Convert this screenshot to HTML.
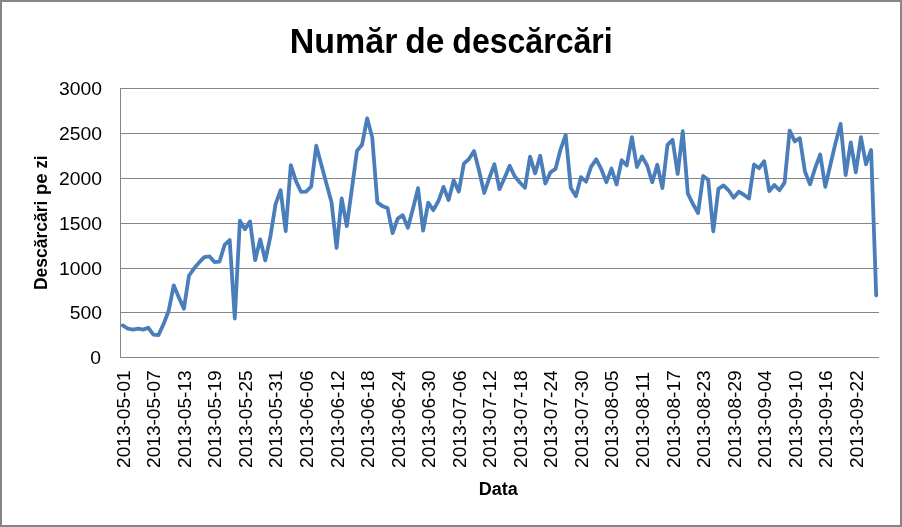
<!DOCTYPE html>
<html><head><meta charset="utf-8"><style>
html,body{margin:0;padding:0;background:#fff;}
svg{display:block;will-change:transform;}
text{fill:#000;font-family:"Liberation Sans",sans-serif;}
</style></head><body>
<svg width="902" height="527" viewBox="0 0 902 527">
<rect x="1" y="1" width="900" height="525" fill="#fff" stroke="#868686" stroke-width="2"/>
<rect x="120" y="88" width="759" height="1" fill="#868686"/>
<rect x="120" y="133" width="759" height="1" fill="#868686"/>
<rect x="120" y="178" width="759" height="1" fill="#868686"/>
<rect x="120" y="223" width="759" height="1" fill="#868686"/>
<rect x="120" y="268" width="759" height="1" fill="#868686"/>
<rect x="120" y="312" width="759" height="1" fill="#868686"/>
<rect x="120" y="357" width="759" height="1" fill="#868686"/>
<rect x="120" y="88" width="1" height="270" fill="#868686"/>
<text transform="translate(102.1,95.10) scale(1.075,1)" text-anchor="end" font-size="18" >3000</text>
<text transform="translate(102.1,140.10) scale(1.075,1)" text-anchor="end" font-size="18" >2500</text>
<text transform="translate(102.1,185.10) scale(1.075,1)" text-anchor="end" font-size="18" >2000</text>
<text transform="translate(102.1,230.10) scale(1.075,1)" text-anchor="end" font-size="18" >1500</text>
<text transform="translate(102.1,275.10) scale(1.075,1)" text-anchor="end" font-size="18" >1000</text>
<text transform="translate(102.1,319.10) scale(1.075,1)" text-anchor="end" font-size="18" >500</text>
<text transform="translate(101.1,364.10) scale(1.075,1)" text-anchor="end" font-size="18" >0</text>
<text transform="translate(129.75,467.96) rotate(-90) scale(1.0604,1)" font-size="18" >2013-05-01</text>
<text transform="translate(160.29,467.96) rotate(-90) scale(1.0604,1)" font-size="18" >2013-05-07</text>
<text transform="translate(190.83,467.96) rotate(-90) scale(1.0604,1)" font-size="18" >2013-05-13</text>
<text transform="translate(221.38,467.96) rotate(-90) scale(1.0604,1)" font-size="18" >2013-05-19</text>
<text transform="translate(251.92,467.96) rotate(-90) scale(1.0604,1)" font-size="18" >2013-05-25</text>
<text transform="translate(282.46,467.96) rotate(-90) scale(1.0604,1)" font-size="18" >2013-05-31</text>
<text transform="translate(313.01,467.96) rotate(-90) scale(1.0604,1)" font-size="18" >2013-06-06</text>
<text transform="translate(343.55,467.96) rotate(-90) scale(1.0604,1)" font-size="18" >2013-06-12</text>
<text transform="translate(374.09,467.96) rotate(-90) scale(1.0604,1)" font-size="18" >2013-06-18</text>
<text transform="translate(404.64,467.96) rotate(-90) scale(1.0604,1)" font-size="18" >2013-06-24</text>
<text transform="translate(435.18,467.96) rotate(-90) scale(1.0604,1)" font-size="18" >2013-06-30</text>
<text transform="translate(465.73,467.96) rotate(-90) scale(1.0604,1)" font-size="18" >2013-07-06</text>
<text transform="translate(496.27,467.96) rotate(-90) scale(1.0604,1)" font-size="18" >2013-07-12</text>
<text transform="translate(526.81,467.96) rotate(-90) scale(1.0604,1)" font-size="18" >2013-07-18</text>
<text transform="translate(557.36,467.96) rotate(-90) scale(1.0604,1)" font-size="18" >2013-07-24</text>
<text transform="translate(587.90,467.96) rotate(-90) scale(1.0604,1)" font-size="18" >2013-07-30</text>
<text transform="translate(618.44,467.96) rotate(-90) scale(1.0604,1)" font-size="18" >2013-08-05</text>
<text transform="translate(648.99,467.96) rotate(-90) scale(1.0604,1)" font-size="18" >2013-08-11</text>
<text transform="translate(679.53,467.96) rotate(-90) scale(1.0604,1)" font-size="18" >2013-08-17</text>
<text transform="translate(710.07,467.96) rotate(-90) scale(1.0604,1)" font-size="18" >2013-08-23</text>
<text transform="translate(740.62,467.96) rotate(-90) scale(1.0604,1)" font-size="18" >2013-08-29</text>
<text transform="translate(771.16,467.96) rotate(-90) scale(1.0604,1)" font-size="18" >2013-09-04</text>
<text transform="translate(801.71,467.96) rotate(-90) scale(1.0604,1)" font-size="18" >2013-09-10</text>
<text transform="translate(832.25,467.96) rotate(-90) scale(1.0604,1)" font-size="18" >2013-09-16</text>
<text transform="translate(862.79,467.96) rotate(-90) scale(1.0604,1)" font-size="18" >2013-09-22</text>
<clipPath id="pc"><rect x="121" y="80" width="760" height="290"/></clipPath>
<polyline clip-path="url(#pc)" points="122.80,325.40 127.89,328.72 132.98,329.61 138.07,328.72 143.16,329.61 148.25,327.73 153.34,334.63 158.43,335.08 163.52,324.14 168.61,311.05 173.70,285.32 178.79,297.24 183.88,308.72 188.97,275.72 194.06,268.46 199.15,262.36 204.24,257.07 209.34,256.36 214.43,262.09 219.52,261.56 224.61,244.97 229.70,240.04 234.79,318.50 239.88,220.76 244.97,229.28 250.06,221.39 255.15,260.21 260.24,239.32 265.33,260.48 270.42,236.45 275.51,204.35 280.60,190.18 285.69,231.07 290.79,165.16 295.88,180.86 300.97,191.80 306.06,191.62 311.15,186.69 316.24,145.71 321.33,164.72 326.42,183.55 331.51,202.29 336.60,247.93 341.69,198.34 346.78,226.14 351.87,188.93 356.96,150.91 362.05,144.72 367.14,118.27 372.23,137.37 377.33,202.38 382.42,206.14 387.51,207.94 392.60,233.04 397.69,218.61 402.78,215.20 407.87,227.66 412.96,208.65 418.05,188.21 423.14,230.71 428.23,202.65 433.32,210.18 438.41,201.03 443.50,186.86 448.59,199.96 453.68,180.23 458.78,191.62 463.87,163.55 468.96,158.98 474.05,151.09 479.14,170.99 484.23,192.96 489.32,177.99 494.41,164.27 499.50,189.11 504.59,177.72 509.68,165.79 514.77,176.37 519.86,182.47 524.95,187.76 530.04,156.65 535.13,173.41 540.22,155.75 545.32,183.46 550.41,172.34 555.50,168.93 560.59,149.29 565.68,134.86 570.77,187.76 575.86,196.19 580.95,177.18 586.04,181.66 591.13,166.60 596.22,159.34 601.31,169.20 606.40,182.20 611.49,168.57 616.58,184.53 621.67,160.23 626.77,165.52 631.86,137.10 636.95,167.05 642.04,156.38 647.13,165.52 652.22,182.20 657.31,164.81 662.40,188.03 667.49,144.90 672.58,139.79 677.67,173.95 682.76,131.18 687.85,193.59 692.94,203.99 698.03,213.05 703.12,175.92 708.21,179.69 713.31,231.34 718.40,188.84 723.49,185.34 728.58,190.27 733.67,197.80 738.76,191.71 743.85,194.75 748.94,198.61 754.03,164.45 759.12,168.21 764.21,161.22 769.30,191.08 774.39,185.07 779.48,190.27 784.57,182.65 789.66,130.55 794.76,141.40 799.85,138.18 804.94,171.53 810.03,184.35 815.12,168.12 820.21,154.49 825.30,186.77 830.39,164.72 835.48,143.20 840.57,123.92 845.66,175.03 850.75,142.30 855.84,172.34 860.93,137.10 866.02,164.45 871.11,149.92 876.20,295.54" fill="none" stroke="#4a7ebb" stroke-width="3.8" stroke-linejoin="round" stroke-linecap="round"/>
<text transform="translate(289.78,52.5) scale(0.972,1)" font-size="35" font-weight="bold" >Număr</text>
<text transform="translate(405.25,52.5) scale(0.957,1)" font-size="35" font-weight="bold" >de</text>
<text transform="translate(452.31,52.5) scale(0.916,1)" font-size="35" font-weight="bold" >descărcări</text>
<text transform="translate(46.9,290.0) rotate(-90) scale(0.972,1)" font-size="18" font-weight="bold" >Descărcări</text>
<text transform="translate(46.9,195.0) rotate(-90) scale(1.034,1)" font-size="18" font-weight="bold" >pe</text>
<text transform="translate(46.9,168.4) rotate(-90) scale(0.9125,1)" font-size="18" font-weight="bold" >zi</text>
<text transform="translate(478.85,494.55)" font-size="18" font-weight="bold" >Data</text>
</svg>
</body></html>
